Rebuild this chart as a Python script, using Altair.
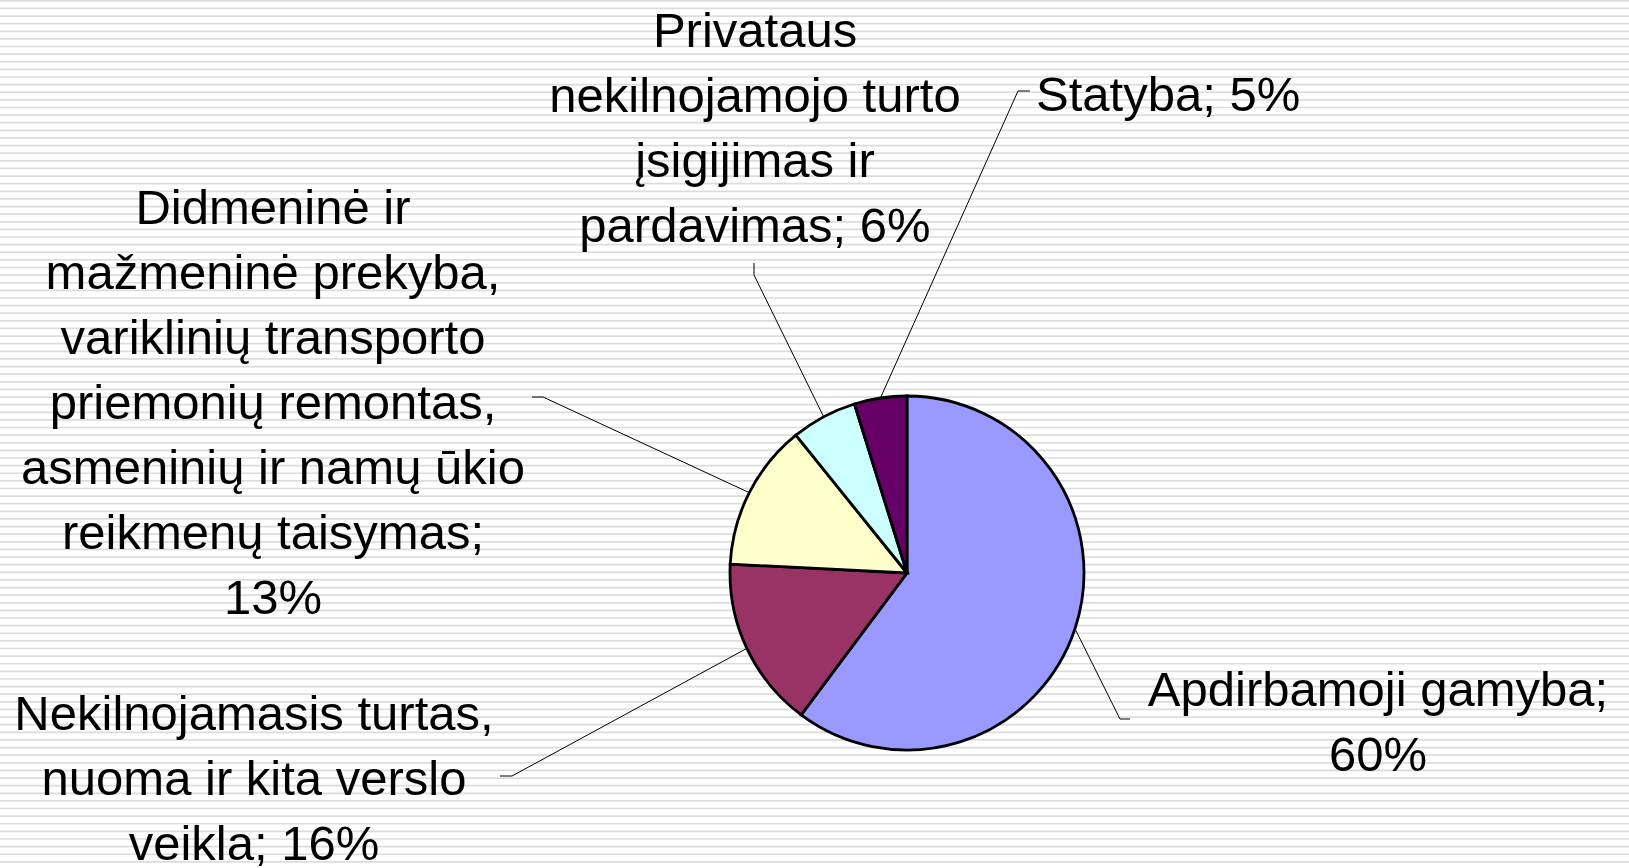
import math
import altair as alt
import pandas as pd

# ---- data ----
categories = [
    "Apdirbamoji gamyba",
    "Nekilnojamasis turtas, nuoma ir kita verslo veikla",
    "Didmeninė ir mažmeninė prekyba, variklinių transporto priemonių remontas, asmeninių ir namų ūkio reikmenų taisymas",
    "Privataus nekilnojamojo turto įsigijimas ir pardavimas",
    "Statyba",
]
shares = [60.2, 15.6, 13.4, 6.0, 4.8]
label_texts = [
    "Apdirbamoji gamyba;\n60%",
    "Nekilnojamasis turtas,\nnuoma ir kita verslo\nveikla; 16%",
    "Didmeninė ir\nmažmeninė prekyba,\nvariklinių transporto\npriemonių remontas,\nasmeninių ir namų ūkio\nreikmenų taisymas;\n13%",
    "Privataus\nnekilnojamojo turto\nįsigijimas ir\npardavimas; 6%",
    "Statyba; 5%",
]
colors = ["#9999FF", "#993366", "#FFFFCC", "#CCFFFF", "#660066"]

# ---- layout (pixels) ----
W, H = 1629, 868
CX, CY, R = 907, 573, 177
FONT = "Liberation Sans"
FS = 49
LH = 65
# label anchor (x, first-baseline y, align)
label_pos = [
    (1378, 706, "center"),
    (254, 730, "center"),
    (273, 224, "center"),
    (755, 47, "center"),
    (1036, 111, "left"),
]
# leader elbow points: (outer end, elbow)
leader_pts = [
    ((1130, 719), (1120, 719)),
    ((500, 776), (512, 776)),
    ((532, 397), (543, 397)),
    ((754, 263), (754, 275)),
    ((1030, 91), (1018, 91)),
]

df = pd.DataFrame({"cat": categories, "share": shares, "order": list(range(len(categories)))})

pie = alt.Chart(df).mark_arc(outerRadius=R, stroke="black", strokeWidth=2.8).encode(
    theta=alt.Theta("share:Q", stack=True),
    order=alt.Order("order:Q"),
    color=alt.Color("cat:N", scale=alt.Scale(domain=categories, range=colors), legend=None),
    x=alt.value(CX),
    y=alt.value(CY),
)

# leader segments computed from slice mid-angles
total = sum(shares)
segs = []
cum = 0.0
for i, s in enumerate(shares):
    mid = (cum + s / 2) / total * 2 * math.pi
    cum += s
    px = CX + R * math.sin(mid)
    py = CY - R * math.cos(mid)
    (ox, oy), (ex, ey) = leader_pts[i]
    segs.append({"x": ox, "y": oy, "x2": ex, "y2": ey})
    segs.append({"x": ex, "y": ey, "x2": px, "y2": py})
seg_df = pd.DataFrame(segs)

leaders = alt.Chart(seg_df).mark_rule(color="black", strokeWidth=1).encode(
    x=alt.X("x:Q", scale=None), y=alt.Y("y:Q", scale=None),
    x2="x2:Q", y2="y2:Q",
)

stripes = alt.Chart(alt.sequence(0, 115, as_="i")).transform_calculate(
    yy="datum.i * 7.62 + 0.8"
).mark_rule(color="#DCDCDC", strokeWidth=1.7).encode(
    y=alt.Y("yy:Q", scale=None), x=alt.value(0), x2=alt.value(W)
)

lab_df = pd.DataFrame({
    "text": label_texts,
    "x": [p[0] for p in label_pos],
    "y": [p[1] for p in label_pos],
    "align": [p[2] for p in label_pos],
})

def text_layer(align):
    return alt.Chart(lab_df).transform_filter(
        alt.datum.align == align
    ).mark_text(
        align=align, baseline="alphabetic", font=FONT, fontSize=FS,
        lineBreak="\n", lineHeight=LH, color="black",
    ).encode(
        x=alt.X("x:Q", scale=None), y=alt.Y("y:Q", scale=None), text="text:N"
    )

chart = alt.layer(
    stripes, leaders, pie, text_layer("center"), text_layer("left")
).properties(
    width=W, height=H, padding=0,
    autosize=alt.AutoSizeParams(type="none"),
    background="white",
).configure_view(stroke=None)

chart.save("out.html", embed_options={"renderer": "svg", "actions": False})
